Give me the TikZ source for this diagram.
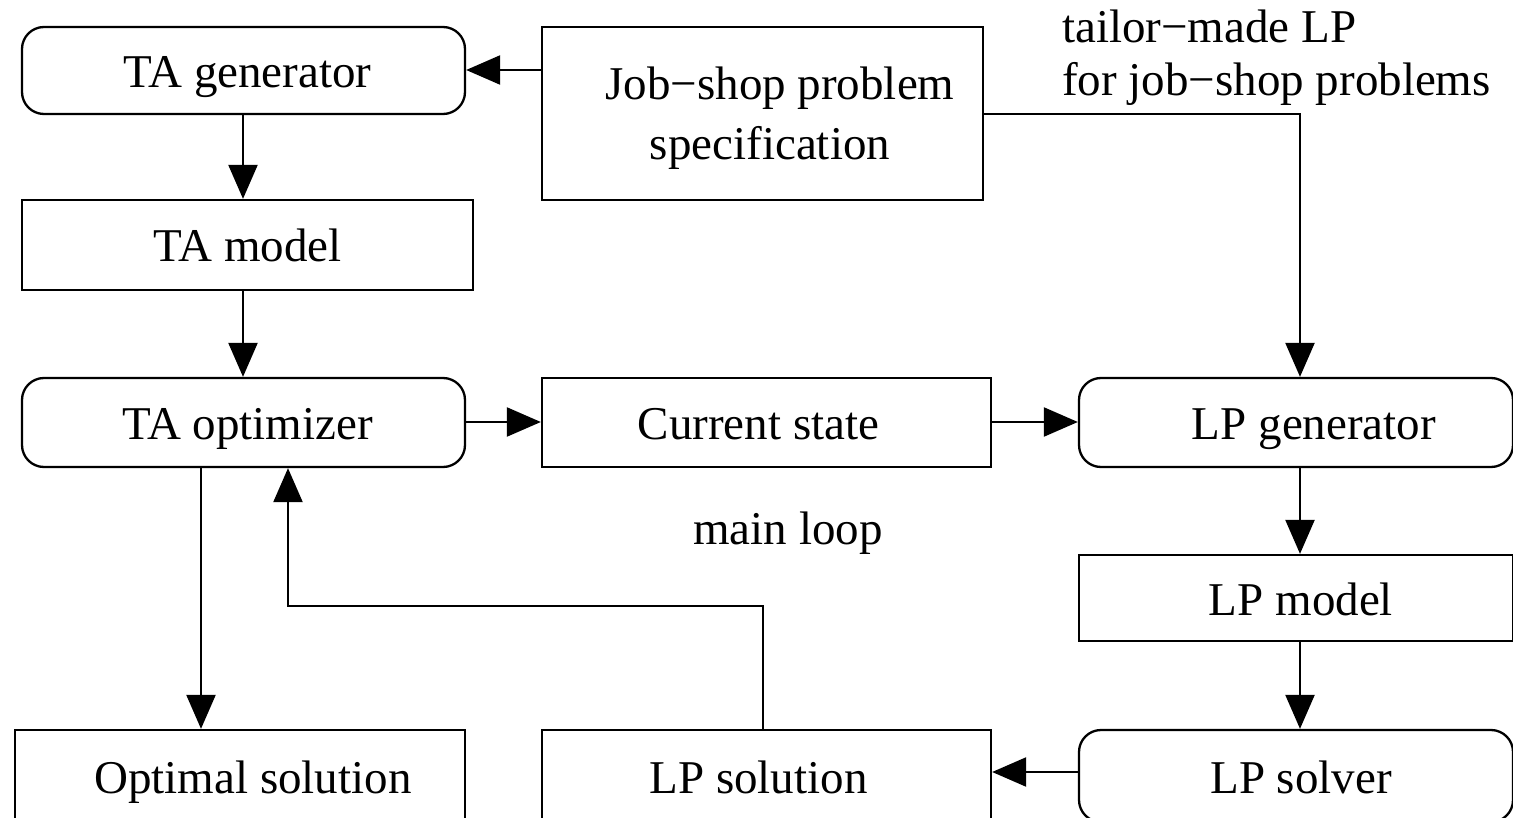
\documentclass[tikz,border=0pt]{standalone}
\usepackage{fontspec}
\setmainfont{Liberation Serif}
\usetikzlibrary{arrows.meta}
\begin{document}
\begin{tikzpicture}[x=1pt,y=-1pt,
  font=\fontsize{47}{60}\selectfont,
  box/.style={draw,line width=2.3pt,inner sep=0pt,align=center},
  one/.style={text height=41pt,text depth=7pt},
  rbox/.style={box,rounded corners=22pt},
  arr/.style={line width=2.3pt,-{Triangle[length=34pt,width=29pt]}}]
\useasboundingbox (0,0) rectangle (1513,818);
\clip (0,0) rectangle (1513,818);
\fill[white] (0,0) rectangle (1513,818);
% nodes
\node[rbox,one,minimum width=443pt,minimum height=87pt] (tagen) at (243.5,70.5) {\hspace*{8pt}TA generator};
\node[box,minimum width=441pt,minimum height=173pt] (job) at (762.5,113.5) {};
\node[align=center,inner sep=0pt] (jobtxt) at (770,118) {\hspace*{20pt}Job−shop problem\\specification};
\node[box,one,minimum width=451pt,minimum height=90pt] (tamodel) at (247.5,245) {TA model};
\node[rbox,one,minimum width=443pt,minimum height=89pt] (taopt) at (243.5,422.5) {\hspace*{8pt}TA optimizer};
\node[box,one,minimum width=449pt,minimum height=89pt] (cur) at (766.5,422.5) {Current state\hspace*{16pt}};
\node[rbox,one,minimum width=434pt,minimum height=89pt] (lpgen) at (1296,422.5) {\hspace*{36pt}LP generator};
\node[box,one,minimum width=434pt,minimum height=86pt] (lpmodel) at (1296,598) {\hspace*{10pt}LP model};
\node[rbox,one,minimum width=434pt,minimum height=92pt] (lpsolver) at (1296,776) {\hspace*{10pt}LP solver};
\node[box,one,minimum width=450pt,minimum height=92pt] (opt) at (240,776) {\hspace*{26pt}Optimal solution};
\node[box,one,minimum width=449pt,minimum height=92pt] (lpsol) at (766.5,776) {LP solution\hspace*{16pt}};
\node[align=left,anchor=west,inner sep=0pt,font=\fontsize{47}{53}\selectfont] (note) at (1062,58) {tailor−made LP\\for job−shop problems};
\node[inner sep=0pt] (loop) at (788,533) {main loop};
% connectors
\draw[arr] (job.west |- 0,70) -- (tagen.east |- 0,70);
\draw[arr] (tagen.south -| 243,0) -- (tamodel.north -| 243,0);
\draw[arr] (tamodel.south -| 243,0) -- (taopt.north -| 243,0);
\draw[arr] (taopt.east |- 0,422) -- (cur.west |- 0,422);
\draw[arr] (cur.east |- 0,422) -- (lpgen.west |- 0,422);
\draw[arr] (job.east |- 0,114) -| (lpgen.north -| 1300,0);
\draw[arr] (lpgen.south -| 1300,0) -- (lpmodel.north -| 1300,0);
\draw[arr] (lpmodel.south -| 1300,0) -- (lpsolver.north -| 1300,0);
\draw[arr] (lpsolver.west |- 0,772) -- (lpsol.east |- 0,772);
\coordinate (lc) at (288,606);
\draw[arr] (lpsol.north -| 763,0) |- (lc) -- (lc |- taopt.south);
\draw[arr] (taopt.south -| 201,0) -- (opt.north -| 201,0);
\end{tikzpicture}
\end{document}
